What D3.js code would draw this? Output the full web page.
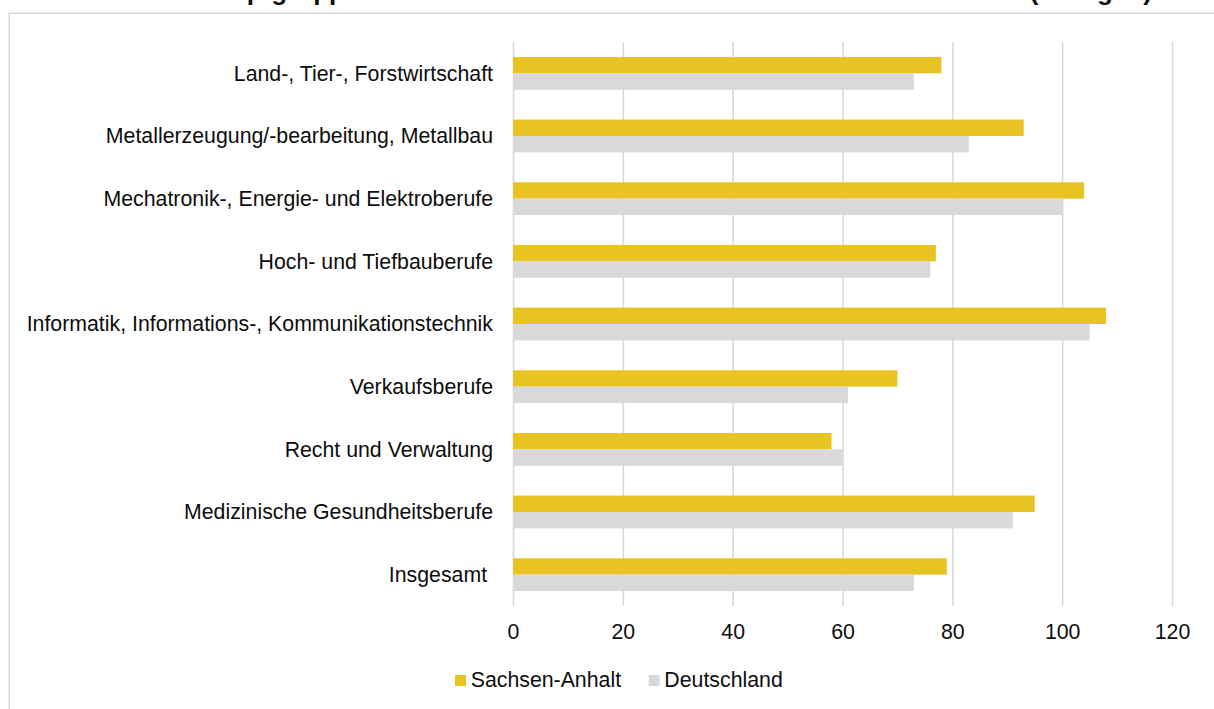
<!DOCTYPE html>
<html lang="de">
<head>
<meta charset="utf-8">
<title>Vakanzzeit nach Berufshauptgruppen</title>
<script src="https://cdn.jsdelivr.net/npm/d3@7"></script>
<style>
  html, body { margin: 0; padding: 0; background: #fff; }
  svg { display: block; font-family: "Liberation Sans", Arial, sans-serif; }
</style>
</head>
<body>
<svg id="chart" width="1214" height="709"></svg>
<script>
// Berufshauptgruppen (top to bottom)
const categories = [
  "Land-, Tier-, Forstwirtschaft",
  "Metallerzeugung/-bearbeitung, Metallbau",
  "Mechatronik-, Energie- und Elektroberufe",
  "Hoch- und Tiefbauberufe",
  "Informatik, Informations-, Kommunikationstechnik",
  "Verkaufsberufe",
  "Recht und Verwaltung",
  "Medizinische Gesundheitsberufe",
  "Insgesamt "
];
const seriesNames = ["Sachsen-Anhalt", "Deutschland"];
// Vakanzzeit in Tagen
const sachsenAnhalt = [78, 93, 104, 77, 108, 70, 58, 95, 79];
const deutschland   = [73, 83, 100, 76, 105, 61, 60, 91, 73];
const xTicks = [0, 20, 40, 60, 80, 100, 120];
const titleText = "Berufshauptgruppen in Sachsen-Anhalt und in Deutschland im Jahr 2019 (in Tagen)";

const seriesValues = [sachsenAnhalt, deutschland];
const colors = d3.scaleOrdinal(seriesNames, ["#e8c324", "#d9d9d9"]);
const textColor = "#0d0d0d";
const fontSize = 21.3;

const svg = d3.select("#chart");

// outer chart frame
svg.append("rect")
  .attr("x", 9.25).attr("y", 13.25)
  .attr("width", 1400).attr("height", 900)
  .attr("fill", "#fff")
  .attr("stroke", "#d9d9d9").attr("stroke-width", 1.5);

// title (runs off the top edge)
svg.append("text")
  .attr("x", 1152).attr("y", -0.5)
  .attr("text-anchor", "end")
  .attr("font-size", 26).attr("font-weight", "bold")
  .attr("fill", textColor)
  .text(titleText);

const plotTop = 42, plotBottom = 606;
const x = d3.scaleLinear().domain([0, 120]).range([513, 1172]);
const y0 = d3.scaleBand().domain(categories).range([plotTop, plotBottom]);
const y1 = d3.scaleBand().domain(seriesNames).range([0, y0.bandwidth()]).paddingInner(0).paddingOuter(0.91);

// value axis with vertical gridlines
const xAxis = d3.axisBottom(x)
  .tickValues(xTicks)
  .tickFormat(d3.format("d"))
  .tickSize(-(plotBottom - plotTop))
  .tickPadding(17.4);

const gx = svg.append("g")
  .attr("transform", `translate(0,${plotBottom})`)
  .call(xAxis);
gx.select(".domain").remove();
gx.selectAll(".tick line").attr("stroke", "#d9d9d9").attr("stroke-width", 1.6);
gx.selectAll(".tick text")
  .attr("fill", textColor)
  .attr("font-size", fontSize)
  .attr("font-family", "Liberation Sans, Arial, sans-serif");

// bars
const groups = svg.append("g").selectAll("g")
  .data(categories)
  .join("g")
  .attr("transform", d => `translate(0,${y0(d)})`);

groups.selectAll("rect")
  .data((d, i) => seriesNames.map((s, k) => ({ series: s, value: seriesValues[k][i] })))
  .join("rect")
  .attr("x", x(0))
  .attr("y", d => y1(d.series))
  .attr("width", d => x(d.value) - x(0))
  .attr("height", y1.bandwidth())
  .attr("fill", d => colors(d.series));

// category labels
svg.append("g").selectAll("text")
  .data(categories)
  .join("text")
  .attr("x", 493)
  .attr("y", d => y0(d) + y0.bandwidth() / 2)
  .attr("dy", "0.35em")
  .attr("text-anchor", "end")
  .attr("font-size", fontSize)
  .attr("fill", textColor)
  .style("white-space", "pre")
  .text(d => d);

// legend
const legend = svg.append("g").attr("transform", "translate(455,687)");
let lx = 0;
seriesNames.forEach(name => {
  const item = legend.append("g").attr("transform", `translate(${lx},0)`);
  item.append("rect")
    .attr("x", 0).attr("y", -12)
    .attr("width", 11).attr("height", 11)
    .attr("fill", colors(name));
  const t = item.append("text")
    .attr("x", 15.7).attr("y", 0)
    .attr("font-size", fontSize)
    .attr("fill", textColor)
    .text(name);
  lx += 15.7 + t.node().getComputedTextLength() + 27.6;
});
</script>
</body>
</html>
